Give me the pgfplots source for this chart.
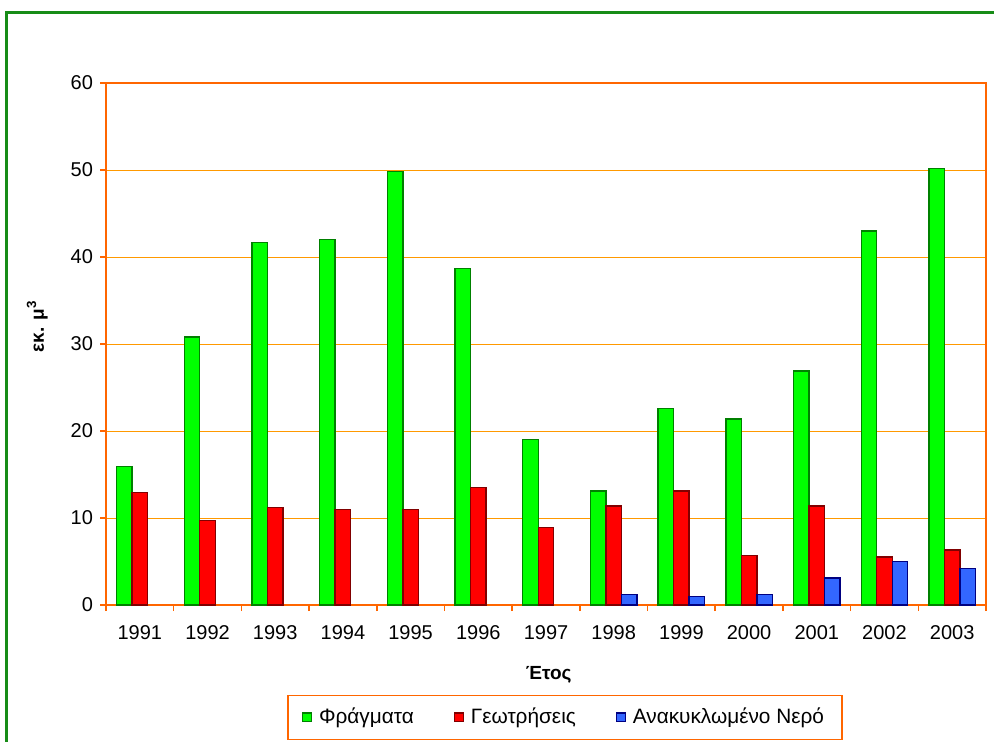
\documentclass[border=0pt]{standalone}
\usepackage{fontspec}
\setmainfont{Liberation Sans}
\usepackage{pgfplots}
\pgfplotsset{compat=1.18}
\definecolor{frameGreen}{HTML}{178C17}
\definecolor{axOrange}{HTML}{FF6600}
\definecolor{gridOrange}{HTML}{FF9900}
\definecolor{barGreen}{HTML}{00FF00}
\definecolor{edgeGreen}{HTML}{008000}
\definecolor{barRed}{HTML}{FF0000}
\definecolor{edgeRed}{HTML}{800000}
\definecolor{barBlue}{HTML}{3366FF}
\definecolor{edgeBlue}{HTML}{000080}

\begin{document}
\begin{tikzpicture}
\path[use as bounding box] (0,0) rectangle (497pt,-371pt);
\draw[frameGreen, line width=1.2pt] (3.2pt,-6.2pt) rectangle (510pt,-385pt);
\begin{axis}[
  at={(53pt,-302.5pt)}, anchor=south west,
  width=440pt, height=261pt, scale only axis,
  xmin=-0.5, xmax=12.5, ymin=0, ymax=60,
  ytick={0,10,...,60},
  xtick={0,...,12},
  xticklabels={1991,1992,1993,1994,1995,1996,1997,1998,1999,2000,2001,2002,2003},
  minor xtick={-0.5,0.5,...,12.5},
  tick pos=left,
  tick align=outside,
  major tick length=3pt, minor tick length=3pt,
  every major x tick/.append style={draw=none},
  every minor x tick/.append style={axOrange, line width=0.8pt},
  every major y tick/.append style={axOrange, line width=0.8pt},
  axis line style={axOrange, line width=1pt},
  ymajorgrids, major grid style={gridOrange, line width=0.5pt},
  tick label style={font=\fontsize{10}{11}\selectfont},
  /pgf/number format/assume math mode=true,
  xticklabel shift=3.5pt,
  ylabel={\textbf{εκ. μ\textsuperscript{3}}},
  ylabel style={at={(axis description cs:-0.078,0.534)}, anchor=center, font=\fontsize{9.5}{11}\selectfont},
  xlabel={\textbf{Έτος}},
  xlabel style={at={(axis description cs:0.503,-0.134)}, anchor=center, font=\fontsize{9.5}{11}\selectfont},
  ybar, bar width=0.229,
  legend columns=3,
  legend style={at={(axis description cs:0.5216,-0.2155)}, anchor=center,
    draw=axOrange, line width=0.6pt, font=\fontsize{10.4}{12}\selectfont,
    inner xsep=7pt, inner ysep=4.5pt,
    /tikz/every even column/.append style={column sep=18pt},
    /tikz/every odd column/.append style={column sep=1.5pt}},
  legend image code/.code={\draw[#1, line width=0.6pt] (0pt,-2.2pt) rectangle (4.4pt,2.2pt);},
]
\addplot[fill=barGreen, draw=edgeGreen, line width=0.7pt, bar shift=-0.229] coordinates {
  (0,15.9) (1,30.8) (2,41.7) (3,42.0) (4,49.8) (5,38.7) (6,19.0)
  (7,13.1) (8,22.6) (9,21.4) (10,26.9) (11,43.0) (12,50.2)};
\addlegendentry{Φράγματα}
\addplot[fill=barRed, draw=edgeRed, line width=0.7pt, bar shift=0] coordinates {
  (0,12.9) (1,9.7) (2,11.2) (3,11.0) (4,11.0) (5,13.5) (6,8.9)
  (7,11.4) (8,13.1) (9,5.7) (10,11.4) (11,5.5) (12,6.3)};
\addlegendentry{Γεωτρήσεις}
\addplot[fill=barBlue, draw=edgeBlue, line width=0.7pt, bar shift=0.229] coordinates {
  (7,1.2) (8,1.0) (9,1.2) (10,3.1) (11,5.0) (12,4.2)};
\addlegendentry{Ανακυκλωμένο Νερό}
\end{axis}
\end{tikzpicture}
\end{document}
